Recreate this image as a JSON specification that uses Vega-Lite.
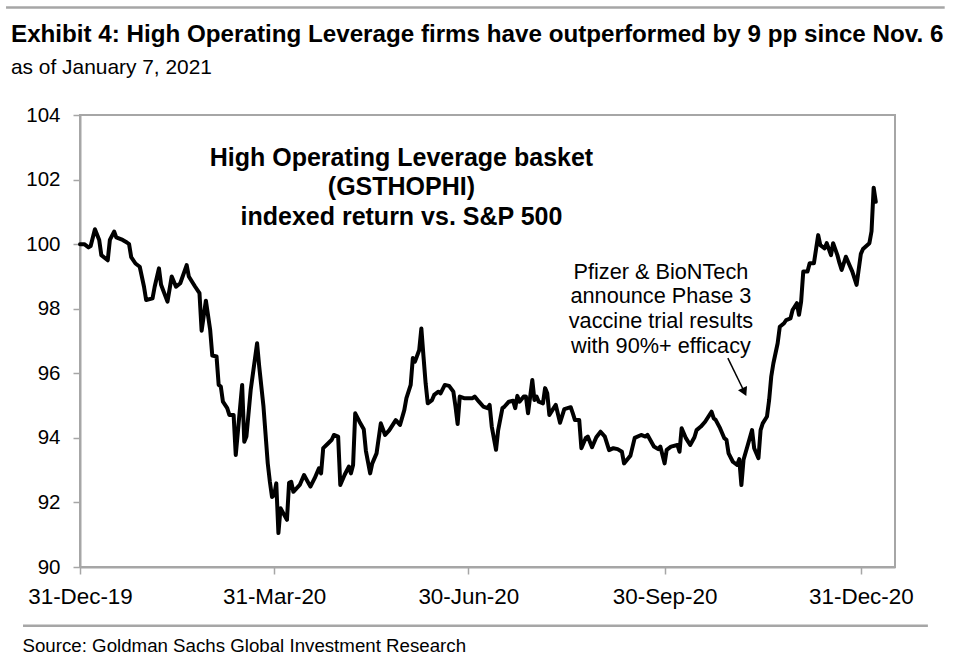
{
  "$schema": "https://vega.github.io/schema/vega-lite/v6.json",
  "width": 815,
  "height": 452,
  "autosize": {"type": "none"},
  "padding": {"left": 80, "top": 115, "right": 65, "bottom": 99},
  "background": "white",
  "config": {"font": "Liberation Sans", "view": {"stroke": "#a6a6a6", "strokeWidth": 2}},
  "title": {
    "text": "Exhibit 4: High Operating Leverage firms have outperformed by 9 pp since Nov. 6",
    "subtitle": "as of January 7, 2021",
    "anchor": "start",
    "frame": "group",
    "dx": -69,
    "offset": -72,
    "fontSize": 24.2,
    "fontWeight": "bold",
    "color": "black",
    "subtitleFontSize": 20.9,
    "subtitleColor": "black",
    "subtitlePadding": 10,
    "font": "Liberation Sans",
    "subtitleFont": "Liberation Sans"
  },
  "datasets": {
    "series": [
      {"date": "2019-12-31", "value": 100.0},
      {"date": "2020-01-02", "value": 100.0},
      {"date": "2020-01-04", "value": 99.9},
      {"date": "2020-01-05", "value": 99.94},
      {"date": "2020-01-07", "value": 100.46},
      {"date": "2020-01-09", "value": 100.13},
      {"date": "2020-01-10", "value": 99.66},
      {"date": "2020-01-13", "value": 99.5},
      {"date": "2020-01-14", "value": 100.13},
      {"date": "2020-01-16", "value": 100.39},
      {"date": "2020-01-17", "value": 100.21},
      {"date": "2020-01-20", "value": 100.13},
      {"date": "2020-01-22", "value": 100.05},
      {"date": "2020-01-23", "value": 100.0},
      {"date": "2020-01-24", "value": 99.6},
      {"date": "2020-01-26", "value": 99.4},
      {"date": "2020-01-28", "value": 99.3},
      {"date": "2020-01-30", "value": 98.68},
      {"date": "2020-01-31", "value": 98.27},
      {"date": "2020-02-03", "value": 98.32},
      {"date": "2020-02-04", "value": 98.68},
      {"date": "2020-02-06", "value": 99.25},
      {"date": "2020-02-07", "value": 98.74},
      {"date": "2020-02-10", "value": 98.22},
      {"date": "2020-02-12", "value": 99.0},
      {"date": "2020-02-14", "value": 98.68},
      {"date": "2020-02-16", "value": 98.79},
      {"date": "2020-02-19", "value": 99.35},
      {"date": "2020-02-20", "value": 99.0},
      {"date": "2020-02-23", "value": 98.68},
      {"date": "2020-02-25", "value": 98.48},
      {"date": "2020-02-26", "value": 97.32},
      {"date": "2020-02-28", "value": 98.25},
      {"date": "2020-03-01", "value": 97.35},
      {"date": "2020-03-02", "value": 96.55},
      {"date": "2020-03-04", "value": 96.52},
      {"date": "2020-03-05", "value": 95.64},
      {"date": "2020-03-06", "value": 95.59},
      {"date": "2020-03-07", "value": 95.12},
      {"date": "2020-03-09", "value": 94.92},
      {"date": "2020-03-10", "value": 94.71},
      {"date": "2020-03-12", "value": 94.71},
      {"date": "2020-03-13", "value": 93.47},
      {"date": "2020-03-16", "value": 95.64},
      {"date": "2020-03-17", "value": 93.88},
      {"date": "2020-03-18", "value": 94.04},
      {"date": "2020-03-20", "value": 95.48},
      {"date": "2020-03-23", "value": 96.93},
      {"date": "2020-03-24", "value": 96.21},
      {"date": "2020-03-26", "value": 94.97},
      {"date": "2020-03-28", "value": 93.21},
      {"date": "2020-03-29", "value": 92.64},
      {"date": "2020-03-30", "value": 92.17},
      {"date": "2020-03-31", "value": 92.23},
      {"date": "2020-04-01", "value": 92.59},
      {"date": "2020-04-02", "value": 91.05},
      {"date": "2020-04-03", "value": 91.82},
      {"date": "2020-04-06", "value": 91.46},
      {"date": "2020-04-07", "value": 92.61},
      {"date": "2020-04-08", "value": 92.64},
      {"date": "2020-04-09", "value": 92.33},
      {"date": "2020-04-12", "value": 92.54},
      {"date": "2020-04-14", "value": 92.85},
      {"date": "2020-04-17", "value": 92.49},
      {"date": "2020-04-19", "value": 92.75},
      {"date": "2020-04-21", "value": 93.06},
      {"date": "2020-04-22", "value": 92.9},
      {"date": "2020-04-23", "value": 93.68},
      {"date": "2020-04-25", "value": 93.81},
      {"date": "2020-04-27", "value": 93.94},
      {"date": "2020-04-28", "value": 94.09},
      {"date": "2020-04-30", "value": 94.04},
      {"date": "2020-05-01", "value": 92.54},
      {"date": "2020-05-03", "value": 92.85},
      {"date": "2020-05-05", "value": 93.11},
      {"date": "2020-05-06", "value": 92.9},
      {"date": "2020-05-07", "value": 93.16},
      {"date": "2020-05-08", "value": 94.76},
      {"date": "2020-05-10", "value": 94.5},
      {"date": "2020-05-12", "value": 94.27},
      {"date": "2020-05-13", "value": 93.6},
      {"date": "2020-05-15", "value": 92.9},
      {"date": "2020-05-16", "value": 93.21},
      {"date": "2020-05-18", "value": 93.52},
      {"date": "2020-05-20", "value": 94.45},
      {"date": "2020-05-22", "value": 94.09},
      {"date": "2020-05-24", "value": 94.24},
      {"date": "2020-05-27", "value": 94.55},
      {"date": "2020-05-29", "value": 94.4},
      {"date": "2020-05-31", "value": 94.86},
      {"date": "2020-06-01", "value": 95.23},
      {"date": "2020-06-03", "value": 95.64},
      {"date": "2020-06-04", "value": 96.47},
      {"date": "2020-06-05", "value": 96.36},
      {"date": "2020-06-07", "value": 96.72},
      {"date": "2020-06-08", "value": 97.39},
      {"date": "2020-06-09", "value": 96.52},
      {"date": "2020-06-10", "value": 95.69},
      {"date": "2020-06-11", "value": 95.07},
      {"date": "2020-06-13", "value": 95.17},
      {"date": "2020-06-14", "value": 95.33},
      {"date": "2020-06-16", "value": 95.43},
      {"date": "2020-06-17", "value": 95.38},
      {"date": "2020-06-19", "value": 95.64},
      {"date": "2020-06-21", "value": 95.61},
      {"date": "2020-06-23", "value": 95.43},
      {"date": "2020-06-24", "value": 94.97},
      {"date": "2020-06-25", "value": 94.43},
      {"date": "2020-06-26", "value": 95.28},
      {"date": "2020-06-28", "value": 95.23},
      {"date": "2020-07-02", "value": 95.23},
      {"date": "2020-07-03", "value": 95.28},
      {"date": "2020-07-05", "value": 95.12},
      {"date": "2020-07-07", "value": 94.97},
      {"date": "2020-07-09", "value": 94.92},
      {"date": "2020-07-10", "value": 95.02},
      {"date": "2020-07-11", "value": 94.35},
      {"date": "2020-07-13", "value": 93.63},
      {"date": "2020-07-14", "value": 94.24},
      {"date": "2020-07-16", "value": 94.92},
      {"date": "2020-07-17", "value": 94.97},
      {"date": "2020-07-19", "value": 95.12},
      {"date": "2020-07-21", "value": 95.15},
      {"date": "2020-07-22", "value": 94.92},
      {"date": "2020-07-23", "value": 95.3},
      {"date": "2020-07-24", "value": 95.12},
      {"date": "2020-07-26", "value": 95.28},
      {"date": "2020-07-27", "value": 95.28},
      {"date": "2020-07-28", "value": 94.76},
      {"date": "2020-07-30", "value": 95.79},
      {"date": "2020-07-31", "value": 95.17},
      {"date": "2020-08-01", "value": 95.28},
      {"date": "2020-08-02", "value": 95.12},
      {"date": "2020-08-04", "value": 95.07},
      {"date": "2020-08-05", "value": 95.54},
      {"date": "2020-08-06", "value": 95.38},
      {"date": "2020-08-07", "value": 94.71},
      {"date": "2020-08-09", "value": 94.92},
      {"date": "2020-08-10", "value": 95.02},
      {"date": "2020-08-12", "value": 94.47},
      {"date": "2020-08-14", "value": 94.89},
      {"date": "2020-08-17", "value": 94.95},
      {"date": "2020-08-18", "value": 94.76},
      {"date": "2020-08-19", "value": 94.55},
      {"date": "2020-08-21", "value": 94.55},
      {"date": "2020-08-22", "value": 93.68},
      {"date": "2020-08-24", "value": 93.99},
      {"date": "2020-08-25", "value": 94.04},
      {"date": "2020-08-27", "value": 93.71},
      {"date": "2020-08-29", "value": 94.02},
      {"date": "2020-08-31", "value": 94.19},
      {"date": "2020-09-02", "value": 94.04},
      {"date": "2020-09-04", "value": 93.62},
      {"date": "2020-09-06", "value": 93.68},
      {"date": "2020-09-08", "value": 93.65},
      {"date": "2020-09-10", "value": 93.57},
      {"date": "2020-09-11", "value": 93.21},
      {"date": "2020-09-13", "value": 93.37},
      {"date": "2020-09-14", "value": 93.45},
      {"date": "2020-09-16", "value": 94.0},
      {"date": "2020-09-19", "value": 94.09},
      {"date": "2020-09-21", "value": 94.04},
      {"date": "2020-09-22", "value": 94.09},
      {"date": "2020-09-25", "value": 93.73},
      {"date": "2020-09-27", "value": 93.65},
      {"date": "2020-09-28", "value": 93.73},
      {"date": "2020-09-30", "value": 93.21},
      {"date": "2020-10-01", "value": 93.63},
      {"date": "2020-10-03", "value": 93.73},
      {"date": "2020-10-06", "value": 93.78},
      {"date": "2020-10-07", "value": 93.57},
      {"date": "2020-10-08", "value": 94.3},
      {"date": "2020-10-10", "value": 93.99},
      {"date": "2020-10-12", "value": 93.78},
      {"date": "2020-10-14", "value": 94.02},
      {"date": "2020-10-15", "value": 94.24},
      {"date": "2020-10-17", "value": 94.35},
      {"date": "2020-10-19", "value": 94.5},
      {"date": "2020-10-22", "value": 94.81},
      {"date": "2020-10-23", "value": 94.61},
      {"date": "2020-10-24", "value": 94.55},
      {"date": "2020-10-26", "value": 94.3},
      {"date": "2020-10-28", "value": 93.99},
      {"date": "2020-10-29", "value": 93.94},
      {"date": "2020-10-30", "value": 93.52},
      {"date": "2020-11-01", "value": 93.26},
      {"date": "2020-11-03", "value": 93.16},
      {"date": "2020-11-04", "value": 93.34},
      {"date": "2020-11-05", "value": 92.54},
      {"date": "2020-11-06", "value": 93.32},
      {"date": "2020-11-08", "value": 93.78},
      {"date": "2020-11-10", "value": 94.24},
      {"date": "2020-11-11", "value": 93.68},
      {"date": "2020-11-13", "value": 93.37},
      {"date": "2020-11-14", "value": 94.24},
      {"date": "2020-11-15", "value": 94.45},
      {"date": "2020-11-17", "value": 94.66},
      {"date": "2020-11-18", "value": 95.17},
      {"date": "2020-11-19", "value": 95.9},
      {"date": "2020-11-20", "value": 96.31},
      {"date": "2020-11-22", "value": 96.93},
      {"date": "2020-11-23", "value": 97.44},
      {"date": "2020-11-25", "value": 97.55},
      {"date": "2020-11-26", "value": 97.65},
      {"date": "2020-11-28", "value": 97.7},
      {"date": "2020-11-29", "value": 97.96},
      {"date": "2020-12-01", "value": 98.17},
      {"date": "2020-12-02", "value": 97.81},
      {"date": "2020-12-03", "value": 98.22},
      {"date": "2020-12-04", "value": 99.15},
      {"date": "2020-12-06", "value": 99.15},
      {"date": "2020-12-07", "value": 99.41},
      {"date": "2020-12-09", "value": 99.41},
      {"date": "2020-12-11", "value": 100.28},
      {"date": "2020-12-12", "value": 99.97},
      {"date": "2020-12-14", "value": 99.87},
      {"date": "2020-12-15", "value": 100.03},
      {"date": "2020-12-17", "value": 99.66},
      {"date": "2020-12-18", "value": 100.03},
      {"date": "2020-12-20", "value": 99.66},
      {"date": "2020-12-21", "value": 99.41},
      {"date": "2020-12-22", "value": 99.2},
      {"date": "2020-12-24", "value": 99.61},
      {"date": "2020-12-26", "value": 99.3},
      {"date": "2020-12-27", "value": 99.15},
      {"date": "2020-12-29", "value": 98.74},
      {"date": "2020-12-31", "value": 99.7},
      {"date": "2021-01-01", "value": 99.85},
      {"date": "2021-01-04", "value": 100.03},
      {"date": "2021-01-05", "value": 100.4},
      {"date": "2021-01-06", "value": 101.75},
      {"date": "2021-01-07", "value": 101.31}
    ]
  },
  "layer": [
    {
      "data": {"name": "series"},
      "mark": {"type": "line", "color": "black", "strokeWidth": 4, "strokeJoin": "round", "strokeCap": "round"},
      "encoding": {
        "x": {
          "field": "date",
          "type": "temporal",
          "scale": {
            "type": "utc",
            "domain": [
              {"year": 2019, "month": 12, "date": 31, "utc": true},
              {"year": 2021, "month": 1, "date": 16, "utc": true}
            ]
          },
          "axis": {
            "values": [
              {"year": 2019, "month": 12, "date": 31, "utc": true},
              {"year": 2020, "month": 3, "date": 31, "utc": true},
              {"year": 2020, "month": 6, "date": 30, "utc": true},
              {"year": 2020, "month": 9, "date": 30, "utc": true},
              {"year": 2020, "month": 12, "date": 31, "utc": true}
            ],
            "format": "%d-%b-%y",
            "labelFontSize": 22.4,
            "labelColor": "black",
            "labelPadding": 11,
            "labelFlush": false,
            "labelOverlap": false,
            "labelBound": false,
            "tickSize": 7,
            "tickColor": "#a6a6a6",
            "tickWidth": 1.5,
            "domainColor": "#a6a6a6",
            "domainWidth": 2,
            "grid": false,
            "title": "Source: Goldman Sachs Global Investment Research",
            "titleFontSize": 18.7,
            "titleFontWeight": "normal",
            "titleColor": "black",
            "titleAnchor": "start",
            "titleAlign": "left",
            "titleBaseline": "alphabetic",
            "titleX": -58,
            "titleY": 84
          }
        },
        "y": {
          "field": "value",
          "type": "quantitative",
          "scale": {"domain": [90, 104], "nice": false, "zero": false},
          "axis": {
            "values": [90, 92, 94, 96, 98, 100, 102, 104],
            "labelFontSize": 20.5,
            "labelColor": "black",
            "labelPadding": 13,
            "tickSize": 7,
            "tickColor": "#a6a6a6",
            "tickWidth": 1.5,
            "domainColor": "#a6a6a6",
            "domainWidth": 2,
            "grid": false,
            "title": null
          }
        }
      }
    },
    {
      "data": {"values": [{}]},
      "mark": {"type": "text", "fontWeight": "bold", "fontSize": 25, "lineHeight": 29.5, "align": "center", "baseline": "middle", "color": "black"},
      "encoding": {
        "x": {"datum": {"year": 2020, "month": 5, "date": 29, "hours": 16, "utc": true}, "type": "temporal"},
        "y": {"datum": 102.67, "type": "quantitative"},
        "text": {"value": ["High Operating Leverage basket", "(GSTHOPHI)", "indexed return vs. S&P 500"]}
      }
    },
    {
      "data": {"values": [{}]},
      "mark": {"type": "text", "fontSize": 21.7, "lineHeight": 24.7, "align": "center", "baseline": "middle", "color": "black"},
      "encoding": {
        "x": {"datum": {"year": 2020, "month": 9, "date": 28, "hours": 7, "utc": true}, "type": "temporal"},
        "y": {"datum": 99.15, "type": "quantitative"},
        "text": {"value": ["Pfizer & BioNTech", "announce Phase 3", "vaccine trial results", "with 90%+ efficacy"]}
      }
    },
    {
      "data": {"values": [{}]},
      "mark": {"type": "rule", "color": "black", "strokeWidth": 1.5},
      "encoding": {
        "x": {"datum": {"year": 2020, "month": 10, "date": 29, "hours": 16, "utc": true}, "type": "temporal"},
        "y": {"datum": 96.47, "type": "quantitative"},
        "x2": {"datum": {"year": 2020, "month": 11, "date": 6, "hours": 10, "utc": true}},
        "y2": {"datum": 95.42}
      }
    },
    {
      "data": {"values": [{}]},
      "mark": {"type": "point", "shape": "triangle-down", "filled": true, "size": 100, "angle": 334, "color": "black", "opacity": 1},
      "encoding": {
        "x": {"datum": {"year": 2020, "month": 11, "date": 6, "hours": 10, "utc": true}, "type": "temporal"},
        "y": {"datum": 95.42, "type": "quantitative"}
      }
    },
    {
      "data": {"values": [{}]},
      "mark": {"type": "rule", "color": "#a6a6a6", "strokeWidth": 2.5, "clip": false},
      "encoding": {
        "x": {"datum": {"year": 2019, "month": 11, "date": 26, "hours": 8, "utc": true}, "type": "temporal"},
        "x2": {"datum": {"year": 2021, "month": 2, "date": 8, "hours": 7, "utc": true}},
        "y": {"datum": 107.33, "type": "quantitative"}
      }
    },
    {
      "data": {"values": [{}]},
      "mark": {"type": "rule", "color": "#a6a6a6", "strokeWidth": 2.5, "clip": false},
      "encoding": {
        "x": {"datum": {"year": 2019, "month": 12, "date": 4, "hours": 7, "utc": true}, "type": "temporal"},
        "x2": {"datum": {"year": 2021, "month": 1, "date": 31, "hours": 10, "utc": true}},
        "y": {"datum": 88.18, "type": "quantitative"}
      }
    }
  ]
}
